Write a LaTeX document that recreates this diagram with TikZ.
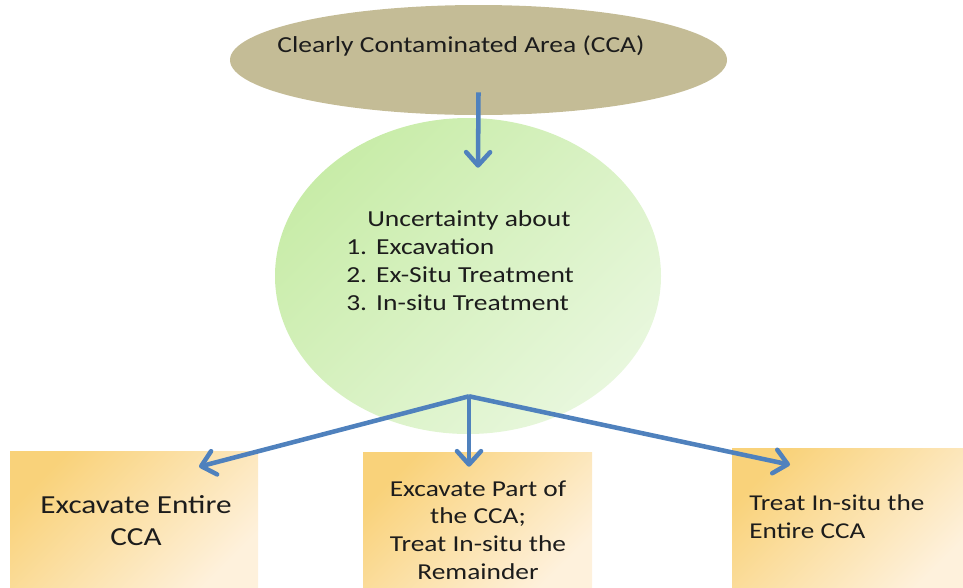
\documentclass[tikz,border=0pt]{standalone}
\usepackage{fontspec}
\setmainfont{Carlito}[FakeStretch=1.2]
\usetikzlibrary{shapes.geometric,arrows.meta,calc}

\definecolor{khaki}{HTML}{C4BC96}
\definecolor{greendark}{HTML}{C8ECA8}
\definecolor{greenlight}{HTML}{E8F7DD}
\definecolor{orangedark}{HTML}{F9D27A}
\definecolor{orangelight}{HTML}{FEF1DC}
\definecolor{flowblue}{HTML}{4F81BD}
\definecolor{ink}{HTML}{1C1C1C}

\tikzset{
  flow/.style={draw=flowblue, line width=3.4pt,
    -{Straight Barb[length=10pt,width=18pt,line cap=round,line join=round]}},
  choice/.style={rectangle, inner sep=0pt, shade,
    top color=orangedark, bottom color=orangelight, shading angle=45},
  body/.style={text=ink, font=\fontsize{17}{21}\selectfont}
}

\begin{document}
\begin{tikzpicture}[x=0.75pt, y=-0.75pt]
\useasboundingbox (0,0) rectangle (963,587);

% top ellipse
\node[ellipse, fill=khaki, inner sep=0pt,
      minimum width=372.75pt, minimum height=82.5pt] (cca) at (478.5,60) {};
\node[body, font=\fontsize{17.2}{20}\selectfont] (ccatext) at (461,46)
  {Clearly Contaminated Area (CCA)};

% central ellipse
\node[ellipse, inner sep=0pt, shade, top color=greendark,
      bottom color=greenlight, shading angle=45,
      minimum width=289.5pt, minimum height=237pt] (unc) at (468,276) {};
\node[body, font=\fontsize{17.2}{21}\selectfont, align=left, anchor=west,
      inner sep=0pt] (unctext) at (346,261)
  {\hspace*{15.75pt}Uncertainty about\\
   \makebox[22.5pt][l]{1.}Excavation\\
   \makebox[22.5pt][l]{2.}Ex-Situ Treatment\\
   \makebox[22.5pt][l]{3.}In-situ Treatment};

% options
\node[choice, minimum width=186pt, minimum height=104.25pt] (b1) at (134,520.5) {};
\node[choice, minimum width=171.75pt, minimum height=103.5pt] (b2) at (477.5,521) {};
\node[choice, minimum width=178.5pt, minimum height=106.5pt] (b3) at (851,519) {};

\node[body, font=\fontsize{19.5}{24}\selectfont, align=center] (b1text) at (136,521)
  {Excavate Entire\\CCA};
\node[body, font=\fontsize{17.1}{20.8}\selectfont, align=center] (b2text) at (478,530)
  {Excavate Part of\\the CCA;\\Treat In-situ the\\Remainder};
\node[body, font=\fontsize{17}{21}\selectfont, align=left, anchor=west,
      inner sep=0pt] (b3text) at (749,517)
  {Treat In-situ the\\Entire CCA};

% connectors
\coordinate (topstart) at ($(cca.south)+(0,-23)$);
\coordinate (topend) at ($(unc.north)+(10,50)$);
\coordinate (split) at ($(unc.south)+(1,-38)$);
\coordinate (tip1) at ($(b1.north)+(65,16)$);
\coordinate (tip2) at ($(b2.north)+(-8.5,15)$);
\coordinate (tip3) at ($(b3.north)+(-61,17)$);

\draw[flow] (topstart) -- (topend);
\draw[flow] (split) -- (tip1);
\draw[flow] (split) -- (tip2);
\draw[flow] (split) -- (tip3);
\end{tikzpicture}
\end{document}
